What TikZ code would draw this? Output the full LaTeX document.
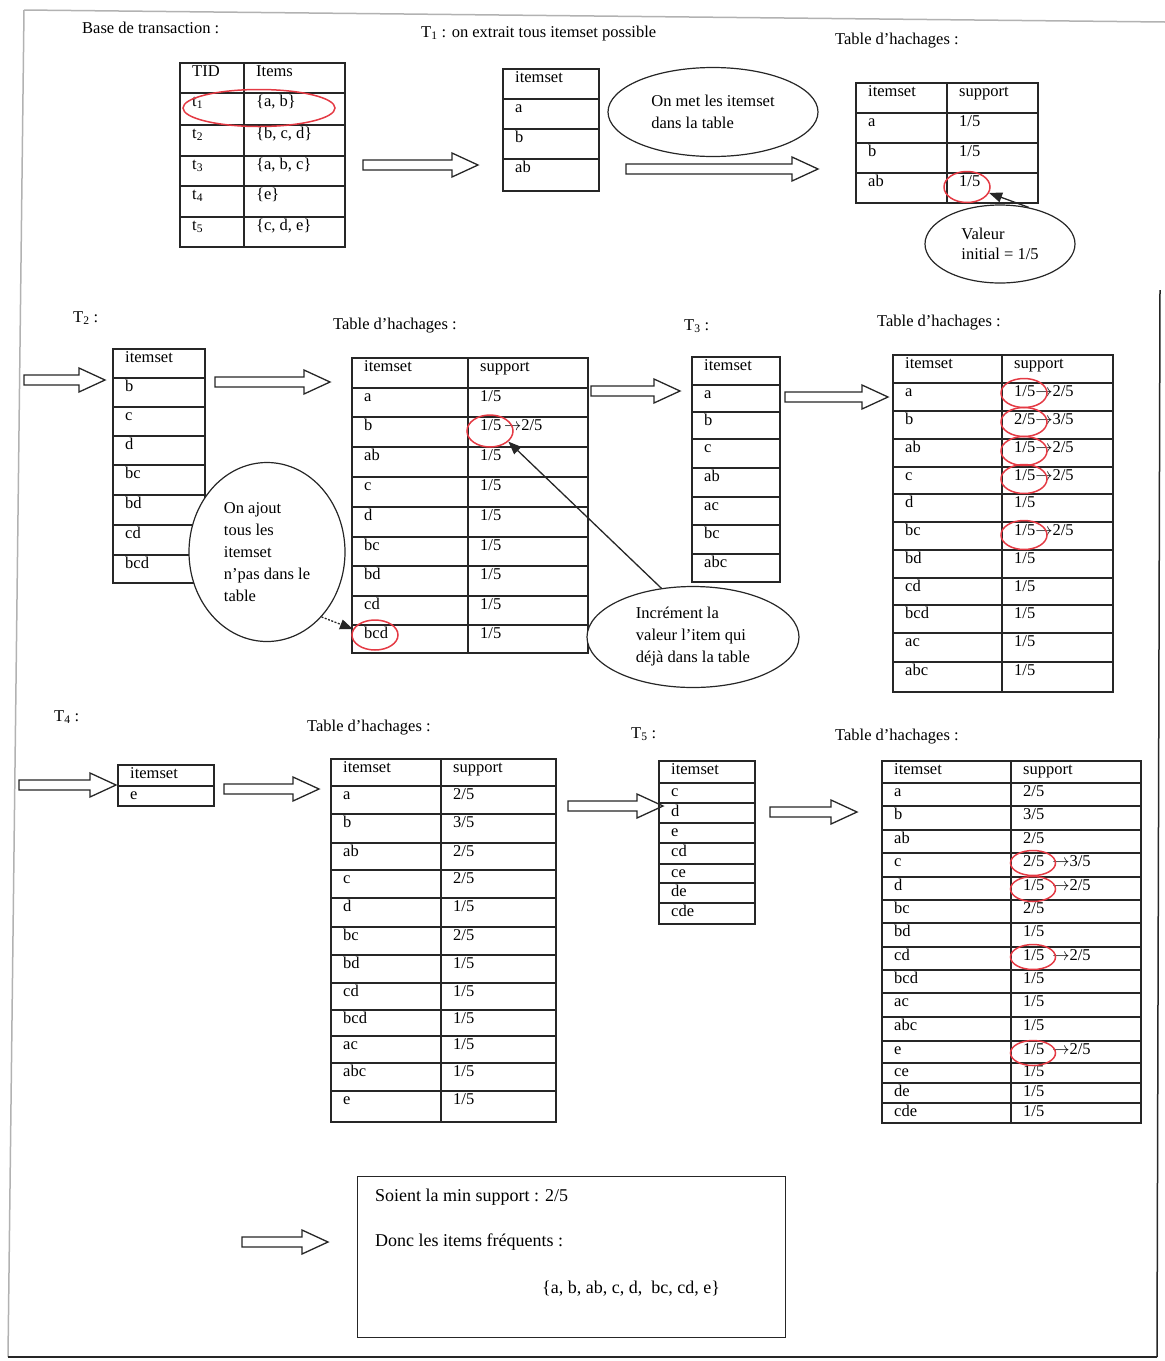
\documentclass[tikz,border=0pt]{standalone}
\usepackage{fontspec}
\setmainfont{Liberation Serif}
\usetikzlibrary{shapes.geometric,arrows.meta}
\definecolor{redc}{RGB}{228,58,68}
\newcommand\fnt{\fontsize{16.5}{22}\selectfont}
\newcommand\barrow[3]{%
  \draw[barr] (#1,#3-5) -- (#2-26,#3-5) -- (#2-26,#3-12) -- (#2,#3) -- (#2-26,#3+12) -- (#2-26,#3+5) -- (#1,#3+5) -- cycle;}
\newcommand\tabone[6]{%
  \draw[tab] (#2,#4) rectangle (#3,#5);
  \foreach \yt/\lb [count=\i] in {#6} {
    \draw[tab] (#2,\yt) -- (#3,\yt);
    \node[cell] (#1-\i) at (#2,\yt) {\lb};}}
\newcommand\tabtwo[7]{%
  \draw[tab] (#2,#5) rectangle (#4,#6);
  \draw[tab] (#3,#5) -- (#3,#6);
  \foreach \yt/\la/\lb [count=\i] in {#7} {
    \draw[tab] (#2,\yt) -- (#4,\yt);
    \node[cell] (#1-\i-a) at (#2,\yt) {\la};
    \node[cell] (#1-\i-b) at (#3,\yt) {\lb};}}
\newcommand\ar{$\rightarrow$}
\begin{document}
\begin{tikzpicture}[x=1pt,y=-1pt,
  tab/.style={line width=1.6pt,black!85},
  cell/.style={anchor=north west,inner xsep=12pt,inner ysep=2pt,text height=11pt,text depth=3pt,font=\fnt},
  lbl/.style={anchor=base west,inner sep=0pt,font=\fnt},
  redell/.style={ellipse,draw=redc,line width=1.5pt,inner sep=0pt},
  bubble/.style={ellipse,draw=black!85,line width=1.2pt,fill=white,inner sep=0pt,align=left,font=\fnt},
  barr/.style={draw=black!85,line width=1.3pt,fill=white,line join=miter},
  ptr/.style={-{Triangle[length=13pt,width=10pt]},line width=1.3pt,black!85}]
\useasboundingbox (0,0) rectangle (1165,1361);
% frame
\draw[gray!60,line width=1.5pt] (24,10) -- (1165,22);
\draw[gray!60,line width=1.5pt] (24,10) -- (8,1357);
\draw[black!85,line width=1.5pt] (8,1357) -- (1157,1357);
\draw[black!85,line width=1.5pt] (1160,290) -- (1157,1357);
% ---------- top row ----------
\node[lbl] (base) at (82,33) {Base de transaction :};
\node[lbl] (t1lbl) at (421,37) {T\textsubscript{1} : on extrait tous itemset possible};
\node[lbl] (h1lbl) at (835,44) {Table d’hachages :};
\tabtwo{tid}{180}{244}{345}{63}{247}{63/TID/Items,93/t\textsubscript{1}/{\{a, b\}},125/t\textsubscript{2}/{\{b, c, d\}},156/t\textsubscript{3}/{\{a, b, c\}},186/t\textsubscript{4}/{\{e\}},217/t\textsubscript{5}/{\{c, d, e\}}}
\node[redell,minimum width=152pt,minimum height=37pt] (rt1) at (259,108) {};
\barrow{363}{478}{165}
\tabone{it1}{503}{599}{69}{191}{69/itemset,99/a,129/b,159/ab}
\node[bubble,minimum width=210pt,minimum height=89pt] (onmet) at (713,112) {On met les itemset\\dans la table};
\barrow{626}{818}{169}
\tabtwo{h1}{856}{947}{1038}{83}{203}{83/itemset/support,113/a/{1/5},143/b/{1/5},173/ab/{1/5}}
\node[redell,minimum width=46pt,minimum height=31pt] (r1) at (967,187) {};
\node[bubble,minimum width=150pt,minimum height=78pt,font=\fontsize{16.5}{20}\selectfont] (valeur) at (1000,244) {Valeur\\initial = 1/5};
\draw[ptr] (valeur.52) -- (r1.-15);
% ---------- middle row ----------
\node[lbl] (t2lbl) at (73,322) {T\textsubscript{2} :};
\barrow{24}{105}{380}
\tabone{it2}{113}{205}{349}{583}{349/itemset,378/b,407/c,436/d,465/bc,495/bd,525/cd,555/bcd}
\barrow{215}{330}{382}
\node[lbl] (h2lbl) at (333,329) {Table d’hachages :};
\tabtwo{h2}{352}{468}{588}{358}{653}{358/itemset/support,388/a/{1/5},417/b/{1/5\,\ar2/5},447/ab/{1/5},477/c/{1/5},507/d/{1/5},537/bc/{1/5},566/bd/{1/5},596/cd/{1/5},625/bcd/{1/5}}
\node[redell,minimum width=46pt,minimum height=32pt] (rb2) at (490,431) {};
\node[redell,minimum width=46pt,minimum height=30pt] (rbcd) at (375,635) {};
\node[bubble,minimum width=156pt,minimum height=179pt] (ajout) at (267,552) {On ajout\\tous les\\itemset\\n’pas dans le\\table};
\draw[ptr,dash pattern=on 2pt off 1.5pt] (ajout.-50) -- (rbcd.165);
\node[bubble,minimum width=212pt,minimum height=101pt] (incr) at (693,637) {Incrément la\\valeur l’item qui\\déjà dans la table};
\draw[ptr] (incr.123) -- (rb2.-30);
\node[lbl] (t3lbl) at (684,330) {T\textsubscript{3} :};
\barrow{591}{680}{391}
\tabone{it3}{692}{780}{357}{582}{357/itemset,385/a,412/b,439/c,468/ab,497/ac,525/bc,554/abc}
\barrow{785}{888}{397}
\node[lbl] (h3lbl) at (877,326) {Table d’hachages :};
\tabtwo{h3}{893}{1002}{1113}{355}{692}{355/itemset/support,383/a/{1/5\ar2/5},411/b/{2/5\ar3/5},439/ab/{1/5\ar2/5},467/c/{1/5\ar2/5},494/d/{1/5},522/bc/{1/5\ar2/5},550/bd/{1/5},578/cd/{1/5},605/bcd/{1/5},633/ac/{1/5},662/abc/{1/5}}
\foreach \yy [count=\k] in {393,422,451,479,535}
  \node[redell,minimum width=46pt,minimum height=29pt] (r3-\k) at (1024,\yy) {};
% ---------- lower row ----------
\node[lbl] (t4lbl) at (54,721) {T\textsubscript{4} :};
\barrow{19}{116}{785}
\tabone{it4}{118}{214}{765}{806}{765/itemset,786/e}
\barrow{224}{319}{789}
\node[lbl] (h4lbl) at (307,731) {Table d’hachages :};
\tabtwo{h4}{331}{441}{556}{759}{1122}{759/itemset/support,786/a/{2/5},814/b/{3/5},843/ab/{2/5},870/c/{2/5},898/d/{1/5},927/bc/{2/5},955/bd/{1/5},983/cd/{1/5},1010/bcd/{1/5},1036/ac/{1/5},1063/abc/{1/5},1091/e/{1/5}}
\node[lbl] (t5lbl) at (631,738) {T\textsubscript{5} :};
\barrow{568}{663}{806}
\tabone{it5}{659}{755}{761}{924}{761/itemset,783/c,803/d,823/e,843/cd,864/ce,883/de,903/cde}
\barrow{770}{857}{812}
\node[lbl] (h5lbl) at (835,740) {Table d’hachages :};
\tabtwo{h5}{882}{1011}{1141}{761}{1123}{761/itemset/support,783/a/{2/5},806/b/{3/5},830/ab/{2/5},853/c/{2/5\hspace{8pt}\ar3/5},877/d/{1/5\hspace{8pt}\ar2/5},900/bc/{2/5},923/bd/{1/5},947/cd/{1/5\hspace{8pt}\ar2/5},970/bcd/{1/5},993/ac/{1/5},1017/abc/{1/5},1041/e/{1/5\hspace{8pt}\ar2/5},1063/ce/{1/5},1083/de/{1/5},1103/cde/{1/5}}
\foreach \yy [count=\k] in {863,889,957,1053}
  \node[redell,minimum width=45pt,minimum height=25pt] (r5-\k) at (1033,\yy) {};
% ---------- result ----------
\barrow{242}{328}{1242}
\node[draw=black!85,line width=1.4pt,minimum width=428pt,minimum height=161pt,anchor=north west,inner sep=0pt] (res) at (357,1176) {};
\node[lbl,font=\fontsize{18}{22}\selectfont] (soient) at (375,1201) {Soient la min support : 2/5};
\node[lbl,font=\fontsize{18}{22}\selectfont] (donc) at (375,1246) {Donc les items fréquents :};
\node[lbl,font=\fontsize{18}{22}\selectfont] (freq) at (542,1293) {\{a, b, ab, c, d,\ \ bc, cd, e\}};
\end{tikzpicture}
\end{document}
